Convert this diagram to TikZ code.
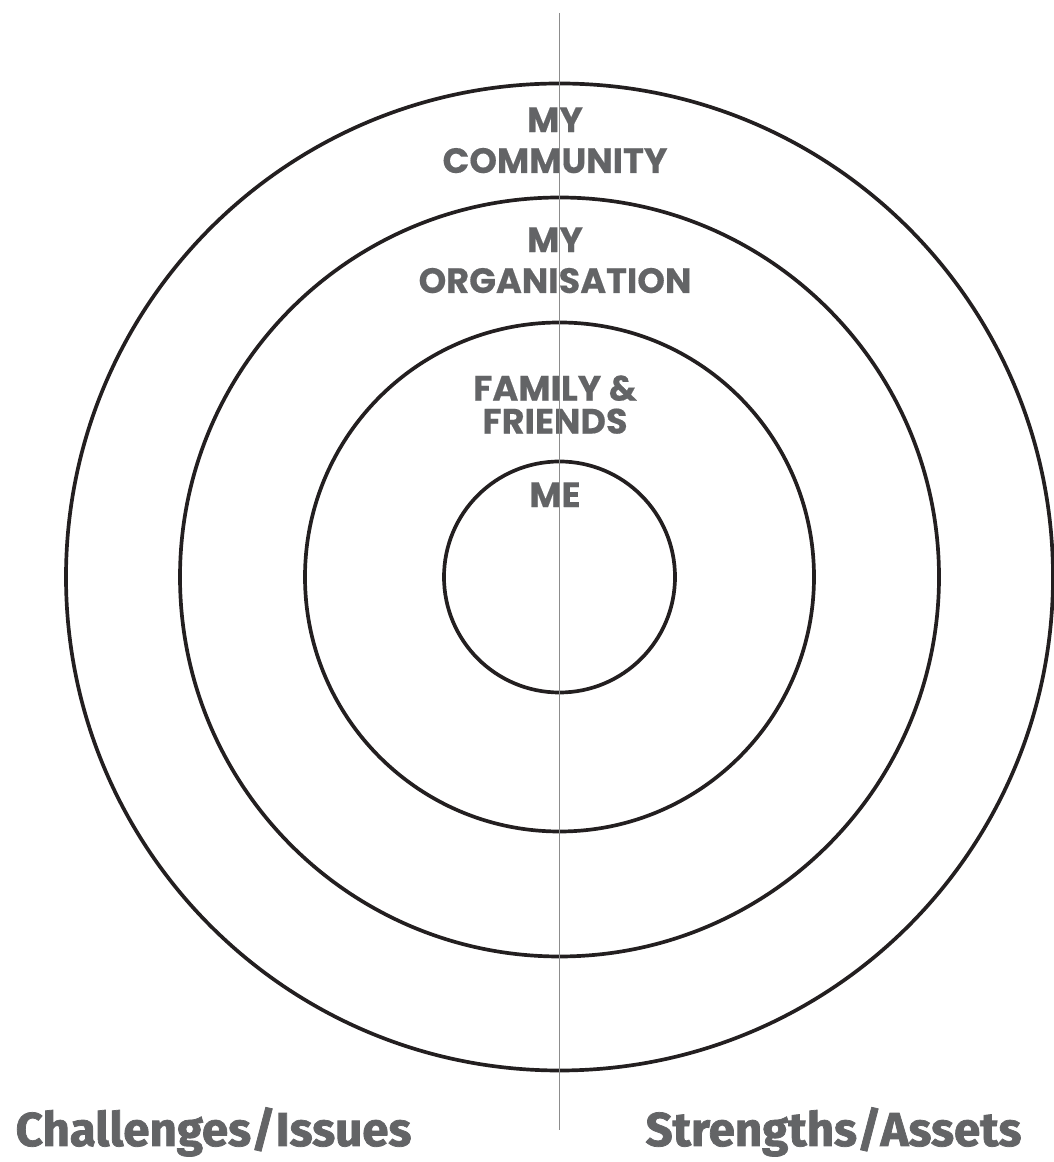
\documentclass[tikz,border=0pt]{standalone}
\usepackage{fontspec}
\setmainfont{Poppins}[BoldFeatures={FakeBold=0.4}]
\newfontfamily\sidefont{Fira Sans}[BoldFeatures={FakeBold=1.6}]
\usepackage{tikz}
\definecolor{ringblack}{HTML}{231F20}
\definecolor{labelgray}{HTML}{636466}
\definecolor{splitgray}{HTML}{8C8C8C}
\tikzstyle{ring} = [draw=ringblack, line width=2.1pt, circle, inner sep=0pt]
\tikzstyle{circlelabel} = [labelgray, inner sep=0pt, anchor=north, align=center, font=\bfseries\fontsize{20pt}{23.3pt}\selectfont]
\tikzstyle{sidelabel} = [labelgray, inner sep=0pt, anchor=base, font=\sidefont\bfseries\fontsize{27pt}{31pt}\selectfont]

\begin{document}
\begin{tikzpicture}
  \useasboundingbox (0,0) rectangle (21.06,23.24);
  \coordinate (c) at (11.19,11.70);
  \node[ring, minimum size=19.74cm] (community) at (c) {};
  \node[ring, minimum size=15.18cm] (organisation) at (c) {};
  \node[ring, minimum size=10.18cm] (family) at (c) {};
  \node[ring, minimum size=4.62cm] (me) at (c) {};
  \node[circlelabel] (lcommunity) at (11.10,21.10) {MY\\COMMUNITY};
  \node[circlelabel] (lorganisation) at (11.10,18.70) {MY\\ORGANISATION};
  \node[circlelabel, font=\bfseries\fontsize{20pt}{18.8pt}\selectfont] (lfamily) at (11.10,15.74) {FAMILY \&\\FRIENDS};
  \node[circlelabel] (lme) at (11.10,13.60) {ME};
  \node[sidelabel] (challenges) at (4.27,0.32) {Challenges/Issues};
  \node[sidelabel] (strengths) at (16.67,0.32) {Strengths/Assets};
  \coordinate (top) at (11.19,22.98);
  \coordinate (bottom) at (11.19,0.64);
  \draw[splitgray, line width=0.6pt] (top) -- (bottom);
\end{tikzpicture}
\end{document}
